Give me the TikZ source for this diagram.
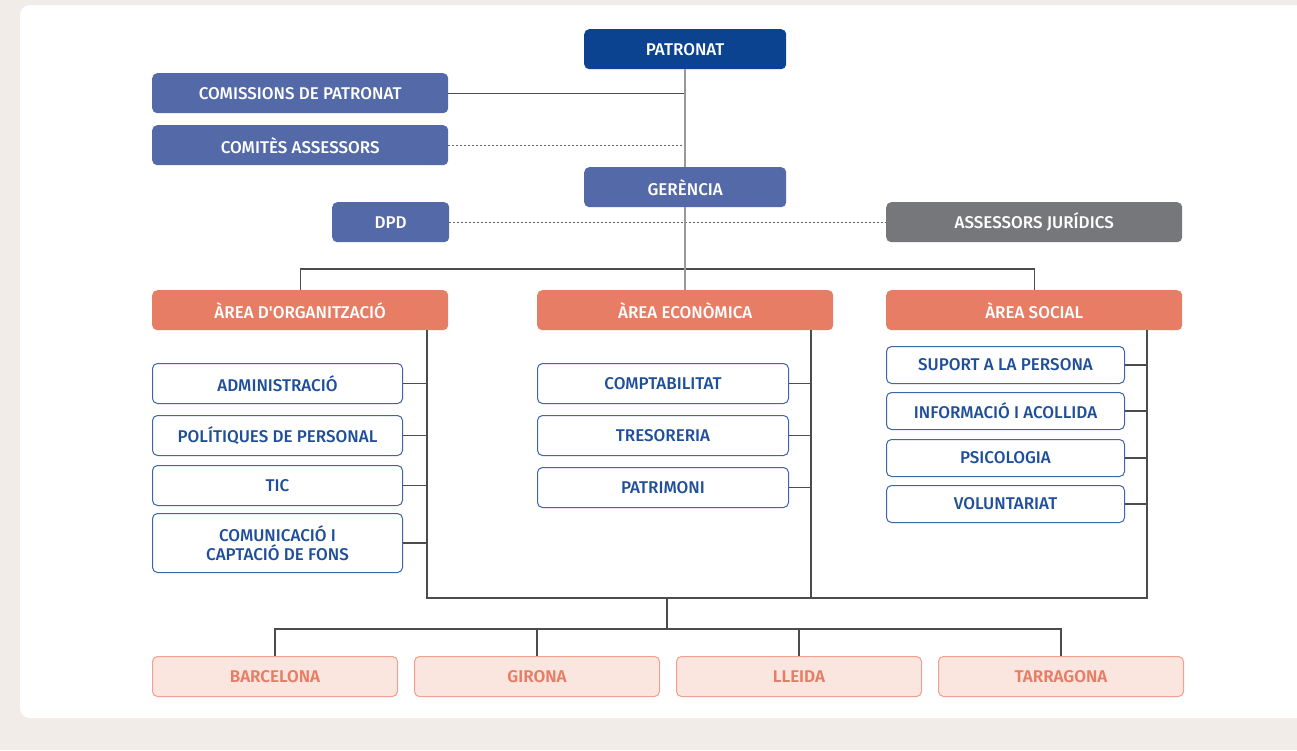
\documentclass[tikz,border=0pt]{standalone}
\usepackage{fontspec}
\setmainfont{Fira Sans}[BoldFont={Fira Sans Medium}]
\newfontfamily\cityfont{Fira Sans SemiBold}
\definecolor{pageback}{HTML}{F1ECE8}
\definecolor{darkblue}{HTML}{0B4391}
\definecolor{midblue}{HTML}{5369A8}
\definecolor{lawgrey}{HTML}{76777A}
\definecolor{coral}{HTML}{E87D66}
\definecolor{subtext}{HTML}{1F4E9A}
\definecolor{subline}{HTML}{3B65AD}
\definecolor{cityfill}{HTML}{FAE6DE}
\definecolor{cityline}{HTML}{F0A08C}
\tikzset{
  box/.style={rounded corners=5pt, anchor=north west, inner sep=0pt, align=center,
    minimum height=40pt, font=\fontsize{17}{19}\selectfont\bfseries},
  topbox/.style={box, fill=darkblue, text=white},
  bluebox/.style={box, fill=midblue, text=white},
  greybox/.style={box, fill=lawgrey, text=white},
  areabox/.style={box, fill=coral, text=white},
  subbox/.style={box, fill=white, draw=subline, line width=1pt, text=subtext},
  citybox/.style={box, fill=cityfill, draw=cityline, line width=1pt, text=coral,
    font=\fontsize{17}{19}\cityfont},
  trunk/.style={draw=black!40, line width=2pt},
  link/.style={draw=black!70, line width=1.2pt},
  dotline/.style={draw=black!60, line width=1.2pt, dash pattern=on 2pt off 2pt}
}
\begin{document}
\begin{tikzpicture}[x=1pt,y=-1pt]
\useasboundingbox (0,0) rectangle (1297,750);
% Background and panel
\fill[pageback] (0,0) rectangle (1297,750);
\fill[white, rounded corners=10pt] (20,5) rectangle (1320,718);
% Top of the chart
\node[topbox, minimum width=202pt] (patronat) at (584,29) {PATRONAT};
\node[bluebox, minimum width=296pt] (comissions) at (152,73) {COMISSIONS DE PATRONAT};
\node[bluebox, minimum width=296pt] (comites) at (152,125) {COMITÈS ASSESSORS};
\node[bluebox, minimum width=202pt] (gerencia) at (584,167) {GERÈNCIA};
\node[bluebox, minimum width=117pt] (dpd) at (332,202) {DPD};
\node[greybox, minimum width=296pt] (juridics) at (886,202) {ASSESSORS JURÍDICS};
% Areas
\node[areabox, minimum width=296pt] (organitzacio) at (152,290) {ÀREA D\textquotesingle ORGANITZACIÓ};
\node[areabox, minimum width=296pt] (economica) at (537,290) {ÀREA ECONÒMICA};
\node[areabox, minimum width=296pt] (social) at (886,290) {ÀREA SOCIAL};
% Area d'organitzacio
\node[subbox, minimum width=250pt] (admin) at (152,363) {ADMINISTRACIÓ};
\node[subbox, minimum width=250pt] (politiques) at (152,415) {POLÍTIQUES DE PERSONAL};
\node[subbox, minimum width=250pt] (tic) at (152,465) {TIC};
\node[subbox, minimum width=250pt, minimum height=59pt] (comunicacio) at (152,513) {COMUNICACIÓ I\\CAPTACIÓ DE FONS};
% Area economica
\node[subbox, minimum width=251pt] (comptabilitat) at (537,363) {COMPTABILITAT};
\node[subbox, minimum width=251pt] (tresoreria) at (537,415) {TRESORERIA};
\node[subbox, minimum width=251pt] (patrimoni) at (537,467) {PATRIMONI};
% Area social
\node[subbox, minimum width=238pt, minimum height=37pt] (suport) at (886,346) {SUPORT A LA PERSONA};
\node[subbox, minimum width=238pt, minimum height=37pt] (informacio) at (886,392) {INFORMACIÓ I ACOLLIDA};
\node[subbox, minimum width=238pt, minimum height=37pt] (psicologia) at (886,439) {PSICOLOGIA};
\node[subbox, minimum width=238pt, minimum height=37pt] (voluntariat) at (886,485) {VOLUNTARIAT};
% Territories
\node[citybox, minimum width=245pt] (barcelona) at (152,656) {BARCELONA};
\node[citybox, minimum width=245pt] (girona) at (414,656) {GIRONA};
\node[citybox, minimum width=245pt] (lleida) at (676,656) {LLEIDA};
\node[citybox, minimum width=245pt] (tarragona) at (938,656) {TARRAGONA};
% Connecting points
\coordinate (bar) at (685,269);
\coordinate (orgend) at (427,598);
\coordinate (ecoend) at (811,598);
\coordinate (socend) at (1147,598);
\coordinate (join) at (667,598);
\coordinate (split) at (667,629);
% Main line
\draw[link] (comissions.east) -- (comissions.east -| patronat.south);
\draw[dotline] (comites.east) -- (comites.east -| patronat.south);
\draw[dotline] (dpd.east) -- (juridics.west);
\draw[link] (organitzacio.north) |- (bar) -| (social.north);
\draw[trunk] (patronat.south) -- (gerencia.north);
\draw[trunk] (gerencia.south) -- (economica.north);
% Area lines
\draw[link] (organitzacio.south -| orgend) -- (orgend) -- (socend) -- (social.south -| socend);
\draw[link] (economica.south -| ecoend) -- (ecoend);
\foreach \n in {admin,politiques,tic,comunicacio}
  \draw[link] (\n.east) -- (\n.east -| orgend);
\foreach \n in {comptabilitat,tresoreria,patrimoni}
  \draw[link] (\n.east) -- (\n.east -| ecoend);
\foreach \n in {suport,informacio,psicologia,voluntariat}
  \draw[link] (\n.east) -- (\n.east -| socend);
% Territory lines
\draw[link] (join) -- (split);
\draw[link] (barcelona.north) |- (split) -| (tarragona.north);
\draw[link] (girona.north) -- (girona.north |- split);
\draw[link] (lleida.north) -- (lleida.north |- split);
\end{tikzpicture}
\end{document}
